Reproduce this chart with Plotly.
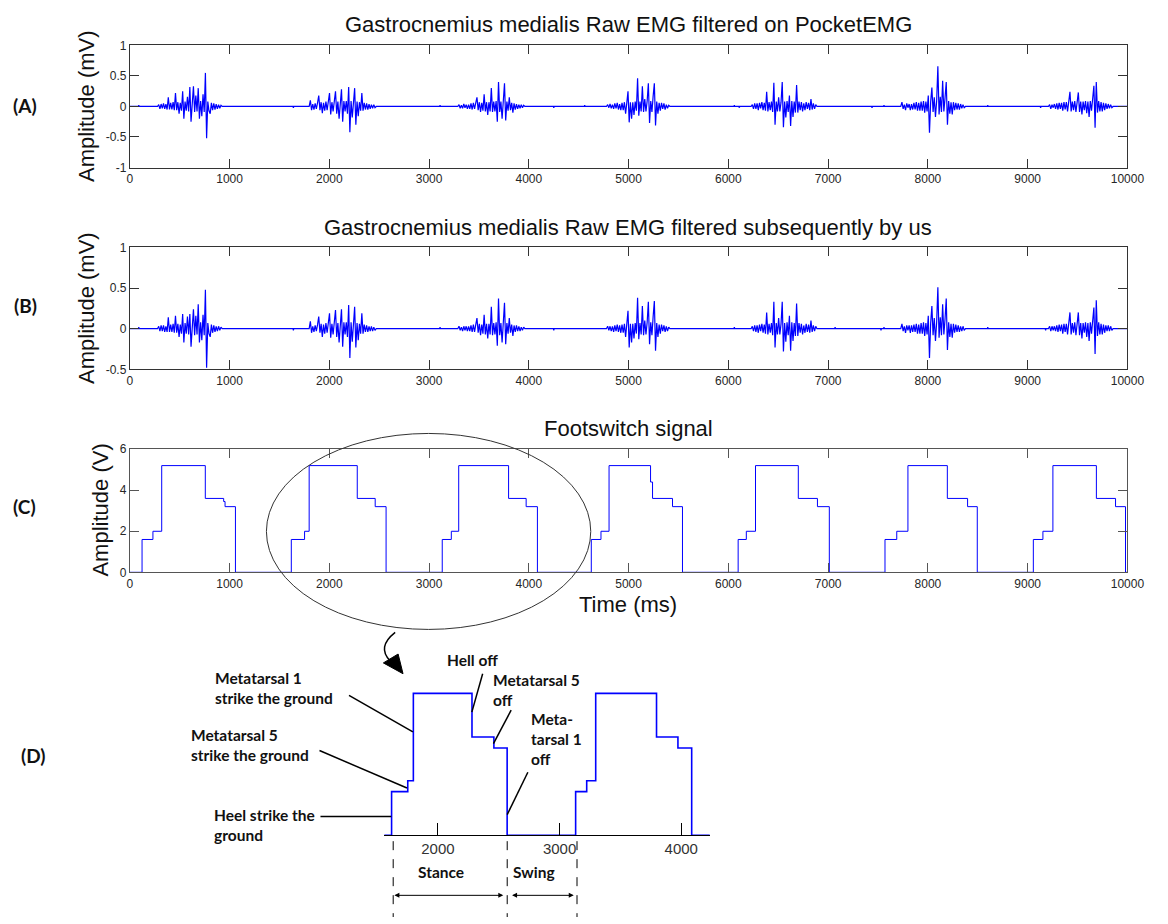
import plotly.graph_objects as go

W, H = 1168, 924

# ---------------- data ----------------
# Footswitch signal (V): step changes (time ms, level V)
fs_t = [0, 123, 232, 320, 757, 941, 955, 1059,
        1619, 1752, 1798, 2280, 2460, 2569,
        3132, 3223, 3297, 3797, 3973, 4086,
        4626, 4723, 4804, 5220, 5240, 5440, 5540,
        6098, 6180, 6272, 6701, 6893, 7012,
        7570, 7688, 7800, 8195, 8398, 8495,
        9057, 9153, 9253, 9689, 9881, 9981, 10000]
fs_v = [0, 1.6, 2.0, 5.2, 3.6, 3.45, 3.2, 0,
        1.6, 2.0, 5.2, 3.6, 3.2, 0,
        1.6, 2.0, 5.2, 3.6, 3.2, 0,
        1.6, 2.0, 5.2, 4.4, 3.6, 3.2, 0,
        1.6, 2.0, 5.2, 3.6, 3.2, 0,
        1.6, 2.0, 5.2, 3.6, 3.2, 0,
        1.6, 2.0, 5.2, 3.6, 3.2, 0, 0]

# EMG bursts: start time (ms), sample step (ms), values in 0.01 mV
burst_start = [290, 1810, 3300, 4790, 6240, 7740, 9220]
burst_step = 12

# (A) filtered on PocketEMG
a1 = [3,-4,4,-3,5,-4,4,-5,15,-5, 6,-5,7,-6,22,-6,7,-12,6,-7, 25,-20,8,-7,16,-8,32,-25,8,33,
      -9,18,-8,30,-20,9,-16,20,-9,55, -52,8,-7,-12,6,-6,5,-5,4,-4, 3,-3,2]
a2 = [10,-6,4,-5,5,-4,6,18,-6,7, -11,6,-7,8,-6,7,22,-13,7,-8, 8,25,-12,8,-20,8,28,-25,9,-8,
      9,-12,32,-42,9,-18,9,30,-30,8, -16,7,-7,22,-7,6,-5,5,-5,4, -4,3,-3,3,-2]
a3 = [3,-3,2,-3,4,-2,3,-4,3,-4, 5,-5,6,-4,6,15,-6,7,-9,6, -7,20,-8,7,-14,7,-8,30,-9,8,
      -8,9,-25,40,-9,8,-20,8,38,-23, 8,-7,15,-6,6,-10,5,-5,4,-4, 3,-3,3,-2,2]
a4 = [3,-2,4,-3,3,-4,5,-3,6,-5, 4,-6,6,-6,7,-12,6,25,-26,7, -20,7,-14,8,-7,46,-15,8,-8,33,
      -9,12,-8,9,38,-27,9,-9,17,38, -31,8,-12,6,-7,6,-4,5,-5,3, -3,2]
a5 = [3,-4,5,-4,5,-6,6,-3,7,-6, 6,-7,24,-8,7,-6,8,-9,39,-30, 8,-8,15,-8,7,40,-34,8,-18,9,
      -9,18,-32,9,-17,8,-10,35,-10,8, -6,7,-8,5,-6,7,-4,6,-6,12, -5,5,-4,3]
a6 = [7,-4,3,-6,5,-2,4,-6,4,-5, 6,-5,7,-7,6,-7,8,-7,9,-10, 8,-8,18,-43,8,31,-9,15,-17,9,
      66,-13,16,-9,42,-8,14,40,-30,9, -12,7,-13,7,-6,6,-5,5,-5,4, -3,3,-2]
a7 = [3,-4,3,-2,4,-4,5,-5,6,-4, 6,-7,7,-5,7,-8,7,24,-8,8, -6,9,-9,7,23,-9,8,-13,8,-6,
      9,-11,8,-17,9,-7,16,34,-35,40, -10,9,-8,7,-8,6,-6,5,-4,4, -3,3,-2]

# (B) filtered subsequently
b1 = [3,-3,4,-3,4,-4,3,-4,14,-4, 5,-4,6,-5,16,-5,6,-10,5,-6, 18,-17,7,-6,15,-7,18,-22,7,24,
      -8,16,-7,30,-17,8,-14,17,-8,48, -48,7,-6,-10,5,-5,4,-4,3,-3, 3,-2,2]
b2 = [9,-5,3,-4,4,-3,5,15,-5,6, -10,5,-6,7,-5,6,19,-11,6,-7, 7,23,-10,7,-17,7,24,-22,8,-7,
      8,-10,29,-36,8,-16,8,27,-23,7, -14,6,-6,19,-6,5,-4,4,-4,3, -3,3,-3,2,-2]
b3 = [3,-2,2,-3,3,-2,3,-3,3,-3, 4,-4,5,-4,5,13,-5,6,-8,5, -6,17,-7,6,-12,6,-7,27,-8,7,
      -7,8,-21,37,-8,7,-17,7,32,-19, 7,-6,13,-5,5,-9,4,-4,4,-3, 3,-3,2,-2,2]
b4 = [3,-2,3,-3,3,-4,4,-3,5,-4, 4,-5,5,-5,6,-10,5,22,-23,6, -17,6,-12,7,-6,38,-13,7,-7,28,
      -8,10,-7,8,33,-19,8,-8,15,34, -27,7,-10,5,-6,5,-3,4,-4,3, -3,2]
b5 = [3,-3,4,-4,4,-5,5,-3,6,-5, 5,-6,20,-7,6,-5,7,-8,33,-23, 7,-7,13,-7,6,33,-28,7,-16,8,
      -8,16,-27,8,-15,7,-9,31,-9,7, -5,6,-7,4,-5,6,-4,5,-5,10, -4,4,-3,3]
b6 = [6,-3,3,-5,4,-2,4,-5,4,-4, 5,-4,6,-6,5,-6,7,-6,8,-9, 7,-7,16,-36,7,28,-8,13,-15,8,
      51,-11,14,-8,30,-7,12,37,-26,8, -10,6,-11,6,-5,5,-4,4,-4,3, -3,3,-2]
b7 = [3,-3,3,-2,3,-3,4,-4,5,-3, 5,-6,6,-4,6,-7,6,20,-7,7, -5,8,-8,6,20,-8,7,-12,7,-5,
      8,-10,7,-15,8,-6,14,26,-31,35, -9,8,-7,6,-7,5,-5,4,-3,4, -3,3,-2]

# small isolated blips on the baseline (ms, mV)
blipA_t = [90, 1640, 3110, 4250, 4560, 6060, 6110, 7440, 7560, 8600, 9130]
blipA_v = [0.02, -0.02, 0.02, -0.02, 0.02, 0.02, -0.02, -0.02, 0.02, 0.02, -0.02]
blipB_t = [90, 1640, 3110, 4250, 6060, 7070, 7530, 7560, 8600, 9180]
blipB_v = [0.02, -0.02, 0.02, -0.02, 0.02, 0.02, -0.02, 0.02, 0.02, -0.02]

x_ticks = [0, 1000, 2000, 3000, 4000, 5000, 6000, 7000, 8000, 9000, 10000]
yA_ticks = [-1, -0.5, 0, 0.5, 1]
yA_text = ['-1', '-0.5', '0', '0.5', '1']
yB_ticks = [-0.5, 0, 0.5, 1]
yB_text = ['-0.5', '0', '0.5', '1']
yC_ticks = [0, 2, 4, 6]
yC_text = ['0', '2', '4', '6']
d_ticks = [2000, 3000, 4000]


def build_emg(bursts, bt, bv):
    pts = [(0, 0.0), (10000, 0.0)]
    for start, vals in zip(burst_start, bursts):
        pts.append((start - burst_step, 0.0))
        for i, v in enumerate(vals):
            pts.append((start + i * burst_step, v / 100.0))
        pts.append((start + len(vals) * burst_step, 0.0))
    for t, v in zip(bt, bv):
        pts += [(t - 4, 0.0), (t, v), (t + 4, 0.0)]
    pts.sort(key=lambda p: p[0])
    return [p[0] for p in pts], [p[1] for p in pts]


ax_t, ax_v = build_emg([a1, a2, a3, a4, a5, a6, a7], blipA_t, blipA_v)
bx_t, bx_v = build_emg([b1, b2, b3, b4, b5, b6, b7], blipB_t, blipB_v)

# ---------------- helpers (window pixel -> paper fraction) ----------------
def PX(x):
    return x / W


def PY(y):
    return 1 - y / H


BLUE = '#0000ff'
AXC = '#333333'
TICKFONT = dict(family='Liberation Sans, Arial', size=12, color='#262626')
TXTFONT = dict(family='Liberation Sans, Arial', size=22, color='#111111')
LBLFONT = dict(family='Lato, Open Sans', size=15.5, color='#111111')

fig = go.Figure()
fig.add_trace(go.Scatter(x=ax_t, y=ax_v, mode='lines', line=dict(color=BLUE, width=1.2),
                         xaxis='x', yaxis='y', hoverinfo='skip'))
fig.add_trace(go.Scatter(x=bx_t, y=bx_v, mode='lines', line=dict(color=BLUE, width=1.2),
                         xaxis='x2', yaxis='y2', hoverinfo='skip'))
fig.add_trace(go.Scatter(x=fs_t, y=fs_v, mode='lines', line=dict(color=BLUE, width=1, shape='hv'),
                         xaxis='x3', yaxis='y3', hoverinfo='skip'))
fig.add_trace(go.Scatter(x=fs_t, y=fs_v, mode='lines', line=dict(color=BLUE, width=1.6, shape='hv'),
                         xaxis='x4', yaxis='y4', hoverinfo='skip'))

common = dict(showline=True, linecolor=AXC, linewidth=1, mirror='ticks', ticks='inside',
              ticklen=9, tickwidth=1, tickcolor=AXC, showgrid=False, zeroline=False,
              tickfont=TICKFONT, fixedrange=True)
xdom = [PX(129), PX(1144)]
xcommon = dict(common, domain=xdom, range=[0, 10000], tickvals=x_ticks,
               ticktext=[str(v) for v in x_ticks])

layout = dict(
    width=W, height=H, autosize=False,
    margin=dict(l=0, r=0, t=0, b=0),
    paper_bgcolor='white', plot_bgcolor='white', showlegend=False,
    xaxis=dict(xcommon, anchor='y'),
    yaxis=dict(common, anchor='x', domain=[PY(163), PY(39)], range=[-1, 1],
               tickvals=yA_ticks, ticktext=yA_text),
    xaxis2=dict(xcommon, anchor='y2'),
    yaxis2=dict(common, anchor='x2', domain=[PY(368), PY(244)], range=[-0.5, 1],
                tickvals=yB_ticks, ticktext=yB_text),
    xaxis3=dict(xcommon, anchor='y3', linecolor='#555555', tickcolor='#555555'),
    yaxis3=dict(common, anchor='x3', domain=[PY(574), PY(449)], range=[0, 6],
                tickvals=yC_ticks, ticktext=yC_text, linecolor='#555555', tickcolor='#555555'),
    xaxis4=dict(anchor='y4', domain=[PX(388), PX(719)], range=[1559.6, 4234],
                showline=True, linecolor='black', linewidth=1.2, ticks='inside', ticklen=12,
                tickcolor='black', tickwidth=1, tickvals=d_ticks,
                ticktext=[str(v) for v in d_ticks], showgrid=False, zeroline=False,
                tickfont=dict(family='Liberation Sans Narrow, Liberation Sans', size=15, color='#333333'),
                fixedrange=True),
    yaxis4=dict(anchor='x4', domain=[PY(841), PY(841 - 6 * 27.7)], range=[0, 6], visible=False,
                fixedrange=True),
)
fig.update_layout(**layout)

ann = []


def text(x, y, s, font, xanchor='center', yanchor='middle', align='center', angle=0):
    ann.append(dict(x=PX(x), y=PY(y), xref='paper', yref='paper', text=s, showarrow=False,
                    font=font, xanchor=xanchor, yanchor=yanchor, align=align, textangle=angle))


# Titles
text(636, 18, 'Gastrocnemius medialis Raw EMG filtered on PocketEMG', TXTFONT)
text(636, 224, 'Gastrocnemius medialis Raw EMG filtered subsequently by us', TXTFONT)
text(636, 428, 'Footswitch signal', TXTFONT)
text(636, 607, 'Time (ms)', TXTFONT)
# y axis titles
text(85, 101, 'Amplitude (mV)', TXTFONT, angle=-90)
text(85, 306, 'Amplitude (mV)', TXTFONT, angle=-90)
text(99, 511, 'Amplitude (V)', TXTFONT, angle=-90)
# panel labels
PFONT = dict(family='Lato, Open Sans', size=19, color='#111111')
text(22, 100, '<b>(A)</b>', PFONT)
text(23, 303, '<b>(B)</b>', PFONT)
text(22, 507, '<b>(C)</b>', PFONT)
text(31, 760, '<b>(D)</b>', PFONT)

# D annotations
text(214, 691, '<b>Metatarsal 1<br>strike the ground</b>', LBLFONT, xanchor='left', align='left')
text(189, 749, '<b>Metatarsal 5<br>strike the ground</b>', LBLFONT, xanchor='left', align='left')
text(213, 831, '<b>Heel strike the<br>ground</b>', LBLFONT, xanchor='left', align='left')
text(450, 663, '<b>Hell off</b>', LBLFONT, xanchor='left', align='left')
text(497, 693, '<b>Metatarsal 5<br>off</b>', LBLFONT, xanchor='left', align='left')
text(535, 743, '<b>Meta-<br>tarsal 1<br>off</b>', LBLFONT, xanchor='left', align='left')
text(446, 878, '<b>Stance</b>', LBLFONT)
text(540, 878, '<b>Swing</b>', LBLFONT)

# stance / swing arrows
for x0, x1 in [(398.6, 509), (517.5, 580.7)]:
    ann.append(dict(x=PX(x1), y=PY(902), xref='paper', yref='paper', ax=x0 - x1, ay=0,
                    axref='pixel', ayref='pixel', text='', showarrow=True, arrowhead=2,
                    arrowside='end+start', arrowsize=1, arrowwidth=1, arrowcolor='black'))
fig.update_layout(annotations=ann)

shapes = []
# ellipse around cycles 2-3 in (C)
shapes.append(dict(type='circle', xref='paper', yref='paper', x0=PX(268), x1=PX(598),
                   y0=PY(632), y1=PY(433), line=dict(color='#333333', width=1)))
# leader lines
for (x0, y0, x1, y1) in [(352, 699, 417, 736), (322, 755, 411, 793), (323, 822, 395, 822),
                         (488, 677, 477, 716), (517, 714, 499, 748), (534, 777, 513, 820)]:
    shapes.append(dict(type='line', xref='paper', yref='paper', x0=PX(x0), y0=PY(y0),
                       x1=PX(x1), y1=PY(y1), line=dict(color='black', width=1.5)))
# dashed phase boundaries
for xv in [397, 513, 584]:
    shapes.append(dict(type='line', xref='paper', yref='paper', x0=PX(xv), x1=PX(xv),
                       y0=PY(847), y1=0, line=dict(color='black', width=1, dash='dash')))
# curved arrow from ellipse to (D)
shapes.append(dict(type='path', xref='paper', yref='paper',
                   path=f'M {PX(399)},{PY(635)} Q {PX(380)},{PY(650)} {PX(394)},{PY(664)}',
                   line=dict(color='black', width=1.5)))
shapes.append(dict(type='path', xref='paper', yref='paper',
                   path=f'M {PX(387)},{PY(666)} L {PX(402)},{PY(657)} L {PX(407)},{PY(677)} Z',
                   fillcolor='black', line=dict(color='black', width=1)))
fig.update_layout(shapes=shapes)

fig.write_html('out.html')
